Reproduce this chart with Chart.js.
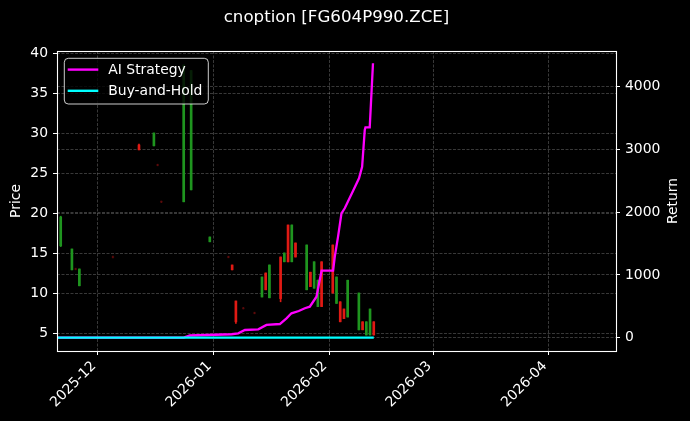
<!DOCTYPE html>
<html>
<head>
<meta charset="utf-8">
<script src="https://cdn.jsdelivr.net/npm/chart.js@4.4.1/dist/chart.umd.min.js"></script>
<style>
  html, body { margin: 0; padding: 0; background: #000; }
  #wrap { width: 690px; height: 421px; }
</style>
</head>
<body>
<div id="wrap"><canvas id="chart" width="690" height="421"></canvas></div>
<script>
// daily candles
const candleDates = [
    '2025-11-21', '2025-11-24', '2025-11-25', '2025-11-26', '2025-12-05',
    '2025-12-12', '2025-12-16', '2025-12-17', '2025-12-18', '2025-12-24',
    '2025-12-26', '2025-12-31', '2026-01-05', '2026-01-06', '2026-01-07',
    '2026-01-09', '2026-01-12', '2026-01-14', '2026-01-15', '2026-01-16',
    '2026-01-19', '2026-01-20', '2026-01-21', '2026-01-22', '2026-01-23',
    '2026-01-26', '2026-01-27', '2026-01-28', '2026-01-29', '2026-01-30',
    '2026-02-02', '2026-02-03', '2026-02-04', '2026-02-05', '2026-02-06',
    '2026-02-09', '2026-02-10', '2026-02-11', '2026-02-12', '2026-02-13'
];
const candleOpen = [
    15.9, 12.9, 13.0, 10.9, 14.5,
    28.5, 28.4, 26.0, 21.4, 21.4,
    22.9, 16.4, 14.5, 13.5, 9.0,
    8.1, 7.5, 9.5, 12.5, 9.4,
    14.5, 13.9, 18.5, 13.9, 16.25,
    10.4, 12.6, 10.6, 8.3, 13.9,
    16.0, 8.7, 8.9, 8.0, 7.0,
    5.4, 6.4, 4.75, 4.75, 6.4
];
const candleHigh = [
    19.6, 15.5, 13.1, 13.0, 14.6,
    28.6, 30.0, 26.1, 21.5, 38.5,
    37.8, 17.0, 14.6, 13.5, 9.0,
    8.2, 7.6, 12.0, 12.5, 13.5,
    14.5, 15.0, 18.5, 18.5, 16.25,
    16.0, 12.6, 13.9, 11.6, 13.9,
    16.0, 12.0, 8.9, 8.0, 11.6,
    10.0, 6.4, 6.4, 8.0, 6.4
];
const candleLow = [
    15.8, 12.9, 12.9, 10.9, 14.4,
    27.9, 28.4, 25.9, 21.3, 21.4,
    22.9, 16.4, 14.4, 12.9, 6.2,
    8.0, 7.4, 9.5, 10.4, 9.4,
    8.9, 13.9, 13.9, 13.9, 14.5,
    10.4, 10.8, 10.6, 8.3, 8.3,
    10.0, 8.7, 6.4, 6.8, 7.0,
    5.4, 5.4, 4.75, 4.75, 4.75
];
const candleClose = [
    19.5, 15.5, 13.0, 13.0, 14.5,
    27.9, 30.0, 26.0, 21.4, 38.5,
    37.8, 17.0, 14.5, 12.9, 6.4,
    8.1, 7.5, 12.0, 10.4, 13.5,
    9.3, 15.0, 13.9, 18.5, 14.5,
    16.0, 10.8, 13.9, 11.6, 8.3,
    10.0, 12.0, 6.4, 6.8, 11.6,
    10.0, 5.4, 6.4, 8.0, 4.75
];

// cumulative return curves
const aiDates = [
    '2025-11-20', '2025-12-24', '2025-12-25 16:00', '2026-01-05 20:00', '2026-01-07 15:00',
    '2026-01-09 10:00', '2026-01-13', '2026-01-15 05:00', '2026-01-18 19:00', '2026-01-20 14:00',
    '2026-01-21 22:00', '2026-01-23 21:00', '2026-01-25 12:00', '2026-01-26 20:00', '2026-01-28 15:00',
    '2026-01-29 12:00', '2026-01-30', '2026-02-02 02:00', '2026-02-02 13:00', '2026-02-03 10:00',
    '2026-02-04 08:00', '2026-02-05 05:00', '2026-02-07 11:00', '2026-02-09 01:00', '2026-02-09 21:00',
    '2026-02-10 14:00', '2026-02-10 18:30', '2026-02-11 22:00', '2026-02-12 19:00'
];
const aiReturn = [
    0, 0, 35, 55, 70,
    123, 134, 203, 218, 309,
    389, 425, 470, 494, 653,
    919, 1068, 1068, 1291, 1610,
    1982, 2062, 2340, 2540, 2725,
    3310, 3353, 3353, 4373
];
const bhDates = ['2025-11-20', '2025-12-24', '2026-01-30', '2026-02-13'];
const bhReturn = [0, 0, 0, 0];

const xStart = '2025-11-20';
const xEnd = '2026-04-19';
const monthTicks = ['2025-12-01', '2026-01-01', '2026-02-01', '2026-03-01', '2026-04-01'];
const priceTicks = [5, 10, 15, 20, 25, 30, 35, 40];
const returnTicks = [0, 1000, 2000, 3000, 4000];

const ORIGIN = Date.UTC(2025, 11, 1);
function toDay(s) {
    const [d, t] = s.split(' ');
    const [Y, M, D] = d.split('-').map(Number);
    let h = 0, mi = 0;
    if (t) [h, mi] = t.split(':').map(Number);
    return (Date.UTC(Y, M - 1, D, h, mi) - ORIGIN) / 864e5;
}
function dayLabel(v) {
    return new Date(ORIGIN + v * 864e5).toISOString().slice(0, 7);
}

const GREEN = '#1f951f';
const RED = '#e01a14';
const DIM = '#5c0b0b';
const candleColors = candleOpen.map((o, i) =>
    candleClose[i] > o ? GREEN : (candleClose[i] < o ? RED : DIM));

const font = { family: "'DejaVu Sans', sans-serif", size: 13.9 };
const gridColor = 'rgba(255, 255, 255, 0.28)';

const backdrop = {
    id: 'backdrop',
    beforeDraw(chart) {
        const { ctx, width, height } = chart;
        ctx.save();
        ctx.fillStyle = '#000';
        ctx.fillRect(0, 0, width, height);
        ctx.restore();
    }
};

// axes frame, title over the axes, right axis label, legend box
const frameAndLegend = {
    id: 'frameAndLegend',
    afterDatasetsDraw(chart) {
        const { ctx, chartArea: a } = chart;
        ctx.save();
        ctx.strokeStyle = '#fff';
        ctx.lineWidth = 1.1;
        ctx.strokeRect(Math.round(a.left) + 0.5, Math.round(a.top) + 0.5,
            Math.round(a.right - a.left), Math.round(a.bottom - a.top));

        ctx.fillStyle = '#fff';
        ctx.textAlign = 'center';
        ctx.textBaseline = 'middle';
        ctx.font = `16.67px ${font.family}`;
        ctx.fillText('cnoption [FG604P990.ZCE]', (a.left + a.right) / 2, 18);

        ctx.font = `${font.size}px ${font.family}`;
        ctx.save();
        ctx.translate(chart.width - 17, (a.top + a.bottom) / 2);
        ctx.rotate(-Math.PI / 2);
        ctx.fillText('Return', 0, 0);
        ctx.restore();

        const bx = a.left + 7.3, by = a.top + 7.3, bw = 144, bh = 45.7;
        ctx.beginPath();
        ctx.roundRect(bx, by, bw, bh, 4);
        ctx.fillStyle = 'rgba(0, 0, 0, 0.8)';
        ctx.fill();
        ctx.strokeStyle = 'rgba(255, 255, 255, 0.8)';
        ctx.lineWidth = 1;
        ctx.stroke();

        const items = chart.data.datasets.filter(d => d.type === 'line');
        ctx.textAlign = 'left';
        items.forEach((ds, i) => {
            const y = by + 11.3 + i * 21.2;
            ctx.beginPath();
            ctx.moveTo(bx + 3.4, y);
            ctx.lineTo(bx + 34, y);
            ctx.strokeStyle = ds.borderColor;
            ctx.lineWidth = 2.4;
            ctx.stroke();
            ctx.fillStyle = '#fff';
            ctx.fillText(ds.label, bx + 44, y + 1);
        });
        ctx.restore();
    }
};

new Chart(document.getElementById('chart'), {
    type: 'line',
    data: {
        datasets: [
            {
                type: 'bar',
                label: 'wick',
                data: candleDates.map((d, i) => ({ x: toDay(d), y: [candleLow[i], candleHigh[i]] })),
                backgroundColor: candleColors,
                barThickness: 1,
                grouped: false,
                yAxisID: 'y',
                order: 4
            },
            {
                type: 'bar',
                label: 'body',
                data: candleDates.map((d, i) => ({ x: toDay(d), y: [candleOpen[i], candleClose[i]] })),
                backgroundColor: candleColors,
                barThickness: 2,
                grouped: false,
                yAxisID: 'y',
                order: 3
            },
            {
                type: 'line',
                label: 'AI Strategy',
                data: aiDates.map((d, i) => ({ x: toDay(d), y: aiReturn[i] })),
                borderColor: '#ff00ff',
                borderWidth: 2.3,
                pointRadius: 0,
                tension: 0,
                yAxisID: 'y1',
                order: 2
            },
            {
                type: 'line',
                label: 'Buy-and-Hold',
                data: bhDates.map((d, i) => ({ x: toDay(d), y: bhReturn[i] })),
                borderColor: '#00ffff',
                borderWidth: 2.3,
                pointRadius: 0,
                tension: 0,
                yAxisID: 'y1',
                order: 1
            }
        ]
    },
    options: {
        responsive: false,
        animation: false,
        events: [],
        layout: { padding: { top: 51, left: 0, right: 0, bottom: 0 } },
        plugins: {
            legend: { display: false },
            tooltip: { enabled: false },
            title: { display: false }
        },
        scales: {
            x: {
                type: 'linear',
                min: toDay(xStart),
                max: toDay(xEnd),
                offset: false,
                afterBuildTicks: s => { s.ticks = monthTicks.map(d => ({ value: toDay(d) })); },
                afterFit: s => { s.height = 70; },
                ticks: {
                    color: '#fff',
                    font: font,
                    autoSkip: false,
                    minRotation: 45,
                    maxRotation: 45,
                    padding: 3,
                    labelOffset: -4,
                    callback: v => dayLabel(v)
                },
                grid: {
                    color: gridColor,
                    lineWidth: 0.8,
                    offset: false,
                    tickLength: 4,
                    tickColor: '#fff',
                    tickWidth: 1
                },
                border: { display: false, dash: [3, 1.5] }
            },
            y: {
                position: 'left',
                min: 2.75,
                max: 40.25,
                afterBuildTicks: s => { s.ticks = priceTicks.map(v => ({ value: v })); },
                afterFit: s => { s.width = 57; },
                ticks: { color: '#fff', font: font, padding: 5, callback: v => String(v) },
                grid: {
                    color: gridColor,
                    lineWidth: 0.8,
                    tickLength: 4,
                    tickColor: '#fff',
                    tickWidth: 1
                },
                border: { display: false, dash: [3, 1.5] },
                title: { display: true, text: 'Price', color: '#fff', font: font, padding: { top: 7.7, bottom: 0 } }
            },
            y1: {
                position: 'right',
                min: -212,
                max: 4569,
                afterBuildTicks: s => { s.ticks = returnTicks.map(v => ({ value: v })); },
                afterFit: s => { s.width = 74; },
                ticks: { color: '#fff', font: font, padding: 5, callback: v => String(v) },
                grid: {
                    color: gridColor,
                    lineWidth: 0.8,
                    drawOnChartArea: true,
                    tickLength: 4,
                    tickColor: '#fff',
                    tickWidth: 1
                },
                border: { display: false, dash: [3, 1.5] }
            }
        }
    },
    plugins: [backdrop, frameAndLegend]
});
</script>
</body>
</html>
